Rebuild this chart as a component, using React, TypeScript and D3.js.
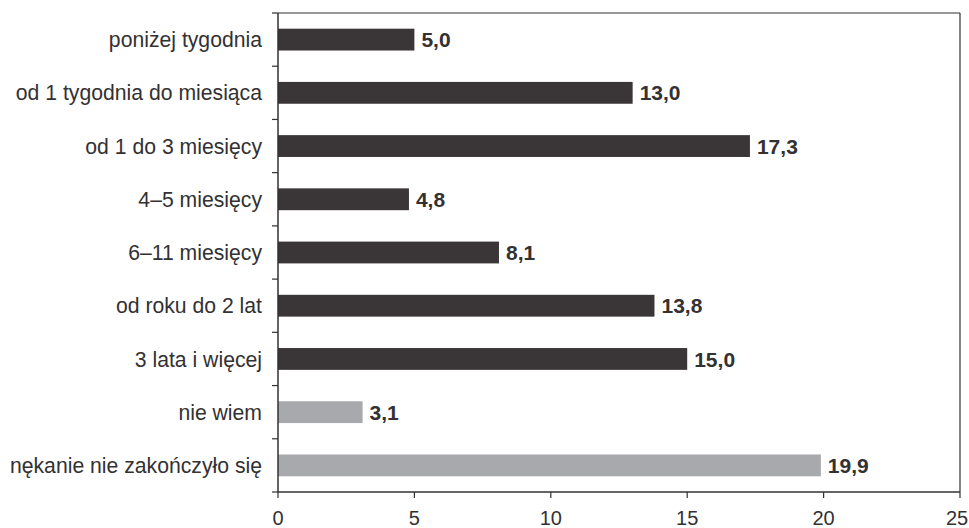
import React, { useEffect, useRef } from 'react';
import * as d3 from 'd3';

const categories = [
  'poniżej tygodnia',
  'od 1 tygodnia do miesiąca',
  'od 1 do 3 miesięcy',
  '4–5 miesięcy',
  '6–11 miesięcy',
  'od roku do 2 lat',
  '3 lata i więcej',
  'nie wiem',
  'nękanie nie zakończyło się',
];
const values = [5.0, 13.0, 17.3, 4.8, 8.1, 13.8, 15.0, 3.1, 19.9];
const greyRows = ['nie wiem', 'nękanie nie zakończyło się'];
const xTicks = [0, 5, 10, 15, 20, 25];

const W = 969;
const H = 528;

const App: React.FC = () => {
  const svgRef = useRef<SVGSVGElement>(null);

  useEffect(() => {
    if (!svgRef.current) return;
    const svg = d3.select(svgRef.current);
    svg.selectAll('*').remove();

    const margin = { top: 13, right: 9, bottom: 36, left: 278 };
    const innerW = W - margin.left - margin.right;
    const innerH = H - margin.top - margin.bottom;

    const x = d3.scaleLinear().domain([0, 25]).range([0, innerW]);
    const y = d3.scaleBand().domain(categories).range([0, innerH]).paddingInner(0.59).paddingOuter(0.295);
    const step = innerH / categories.length;

    const g = svg.append('g').attr('transform', `translate(${margin.left},${margin.top})`);
    const ink = '#333132';
    const font = 'Liberation Sans, Arial, sans-serif';

    // bars
    g.selectAll('rect.bar')
      .data(categories)
      .join('rect')
      .attr('class', 'bar')
      .attr('x', 0)
      .attr('y', d => y(d)!)
      .attr('width', (d, i) => x(values[i]))
      .attr('height', y.bandwidth())
      .attr('fill', d => (greyRows.includes(d) ? '#a7a9ac' : '#3a3536'));

    // value labels
    g.selectAll('text.val')
      .data(categories)
      .join('text')
      .attr('class', 'val')
      .attr('x', (d, i) => x(values[i]) + 7)
      .attr('y', d => y(d)! + y.bandwidth() / 2)
      .attr('dy', '0.36em')
      .attr('font-family', font)
      .attr('font-weight', 'bold')
      .attr('font-size', 21)
      .attr('fill', ink)
      .text((d, i) => values[i].toFixed(1).replace('.', ','));

    // frame top + right
    g.append('line').attr('x1', 0).attr('x2', innerW).attr('y1', 0).attr('y2', 0)
      .attr('stroke', ink).attr('stroke-width', 1.2);
    g.append('line').attr('x1', innerW).attr('x2', innerW).attr('y1', 0).attr('y2', innerH)
      .attr('stroke', ink).attr('stroke-width', 1.2);

    // y axis
    g.append('line').attr('x1', 0).attr('x2', 0).attr('y1', 0).attr('y2', innerH)
      .attr('stroke', ink).attr('stroke-width', 1.5);
    g.selectAll('line.ytick')
      .data(d3.range(categories.length + 1))
      .join('line')
      .attr('class', 'ytick')
      .attr('x1', -6).attr('x2', 0)
      .attr('y1', i => i * step).attr('y2', i => i * step)
      .attr('stroke', ink).attr('stroke-width', 1.2);
    g.selectAll('text.cat')
      .data(categories)
      .join('text')
      .attr('class', 'cat')
      .attr('x', -16)
      .attr('y', d => y(d)! + y.bandwidth() / 2)
      .attr('dy', '0.36em')
      .attr('text-anchor', 'end')
      .attr('font-family', font)
      .attr('font-size', 21.2)
      .attr('fill', ink)
      .text(d => d);

    // x axis
    g.append('line').attr('x1', 0).attr('x2', innerW).attr('y1', innerH).attr('y2', innerH)
      .attr('stroke', ink).attr('stroke-width', 1.5);
    g.selectAll('line.xtick')
      .data(xTicks)
      .join('line')
      .attr('class', 'xtick')
      .attr('x1', d => x(d)).attr('x2', d => x(d))
      .attr('y1', innerH).attr('y2', innerH + 6)
      .attr('stroke', ink).attr('stroke-width', 1.2);
    g.selectAll('text.xlab')
      .data(xTicks)
      .join('text')
      .attr('class', 'xlab')
      .attr('x', d => Math.min(x(d), innerW - 3))
      .attr('y', innerH + 33)
      .attr('text-anchor', 'middle')
      .attr('font-family', font)
      .attr('font-size', 20)
      .attr('fill', ink)
      .text(d => String(d));
  }, []);

  return (
    <svg
      ref={svgRef}
      width={W}
      height={H}
      style={{ position: 'absolute', left: 0, top: 0, background: '#fff' }}
    />
  );
};

export default App;
